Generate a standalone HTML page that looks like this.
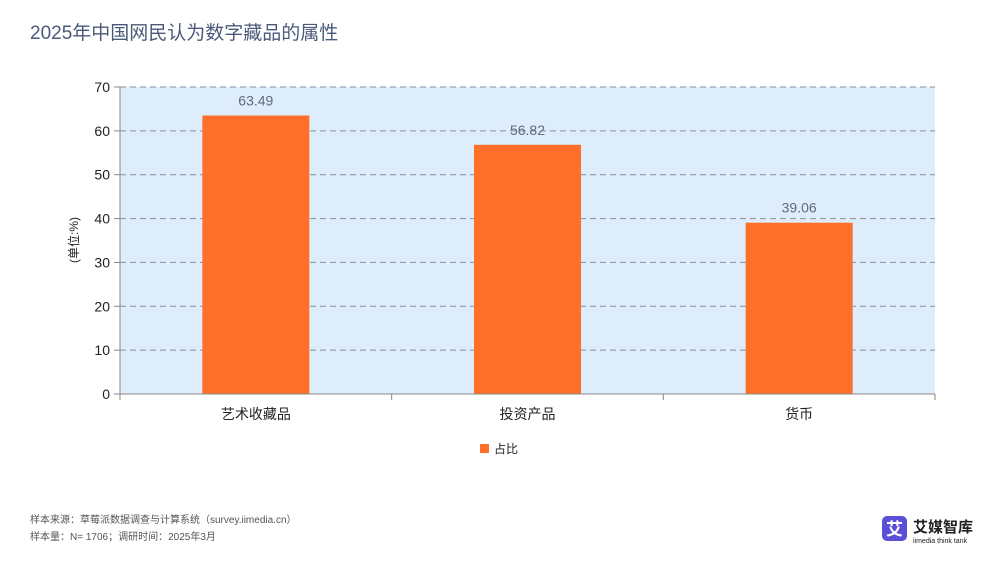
<!DOCTYPE html>
<html><head><meta charset="utf-8"><style>
body{margin:0;width:1000px;height:563px;background:#fff;overflow:hidden;font-family:"Liberation Sans","Noto Sans CJK SC",sans-serif;}
</style></head><body>
<svg width="1000" height="563" viewBox="0 0 1000 563">
<text x="30" y="39" font-size="19" fill="#4a5a78">2025年中国网民认为数字藏品的属性</text>
<rect x="120" y="87" width="815" height="307" fill="#deedfb"/>
<g id="grid"></g>
<g id="bars"></g>
<line x1="120" y1="87" x2="120" y2="394" stroke="#888" stroke-width="1"/>
<line x1="120" y1="394" x2="935" y2="394" stroke="#888" stroke-width="1"/>
<text x="0" y="0" transform="translate(78,240) rotate(-90)" text-anchor="middle" font-size="12" fill="#222">(单位:%)</text>
<rect x="480" y="444" width="9" height="9" fill="#ff6f2a"/>
<text x="494" y="453" font-size="12" fill="#222">占比</text>
<text x="30" y="523" font-size="10" fill="#555">样本来源：草莓派数据调查与计算系统（survey.iimedia.cn）</text>
<text x="30" y="540" font-size="10" fill="#555">样本量：N= 1706；调研时间：2025年3月</text>
<g>
<rect x="882" y="516" width="25" height="25" rx="5" fill="#5a4fd6"/>
<text x="894.5" y="535" text-anchor="middle" font-size="17" font-weight="bold" fill="#fff">艾</text>
<text x="913" y="532" font-size="15" font-weight="bold" fill="#222">艾媒智库</text>
<text x="913" y="543" font-size="7" fill="#222">iimedia think tank</text>
</g>
</svg>
<script>
const categories=["艺术收藏品","投资产品","货币"];
const values=[63.49,56.82,39.06];
const yTicks=[0,10,20,30,40,50,60,70];
const valueLabels=["63.49","56.82","39.06"];
const ns="http://www.w3.org/2000/svg";
const L=120,R=935,T=87,B=394,yMax=70;
const y=v=>B-(v/yMax)*(B-T);
const bw=(R-L)/categories.length;
const xc=i=>L+bw*(i+0.5);
const grid=document.getElementById('grid'),bars=document.getElementById('bars');
function mk(tag,attrs,parent){const e=document.createElementNS(ns,tag);for(const k in attrs)e.setAttribute(k,attrs[k]);parent.appendChild(e);return e;}
yTicks.forEach(t=>{
 if(t>0){const g=mk('line',{x1:L,x2:R,y1:y(t),y2:y(t),stroke:'#8a8f96','stroke-dasharray':'6,4','stroke-width':1},grid);
 
 }
 const tk=mk('line',{x1:L-6,x2:L,y1:y(t),y2:y(t),stroke:'#888'},grid);
 
 
 const tx=mk('text',{x:L-10,y:y(t)+5,'text-anchor':'end','font-size':14,fill:'#222'},grid);
 tx.textContent=t;
 
 
});
for(let i=0;i<=categories.length;i++){
 const tk=mk('line',{x1:L+bw*i,x2:L+bw*i,y1:B,y2:B+6,stroke:'#888'},grid);
 
 
}
const barW=107;
categories.forEach((c,i)=>{
 const r=mk('rect',{x:xc(i)-barW/2,y:y(values[i]),width:barW,height:B-y(values[i]),fill:'#ff6f2a'},bars);
 
 
 const v=mk('text',{x:xc(i),y:y(values[i])-10,'text-anchor':'middle','font-size':14,fill:'#5f6b7a'},bars);
 v.textContent=valueLabels[i];
 
 
 const l=mk('text',{x:xc(i),y:B+25,'text-anchor':'middle','font-size':14,fill:'#222'},bars);
 l.textContent=c;
 
 
});
</script>
</body></html>
